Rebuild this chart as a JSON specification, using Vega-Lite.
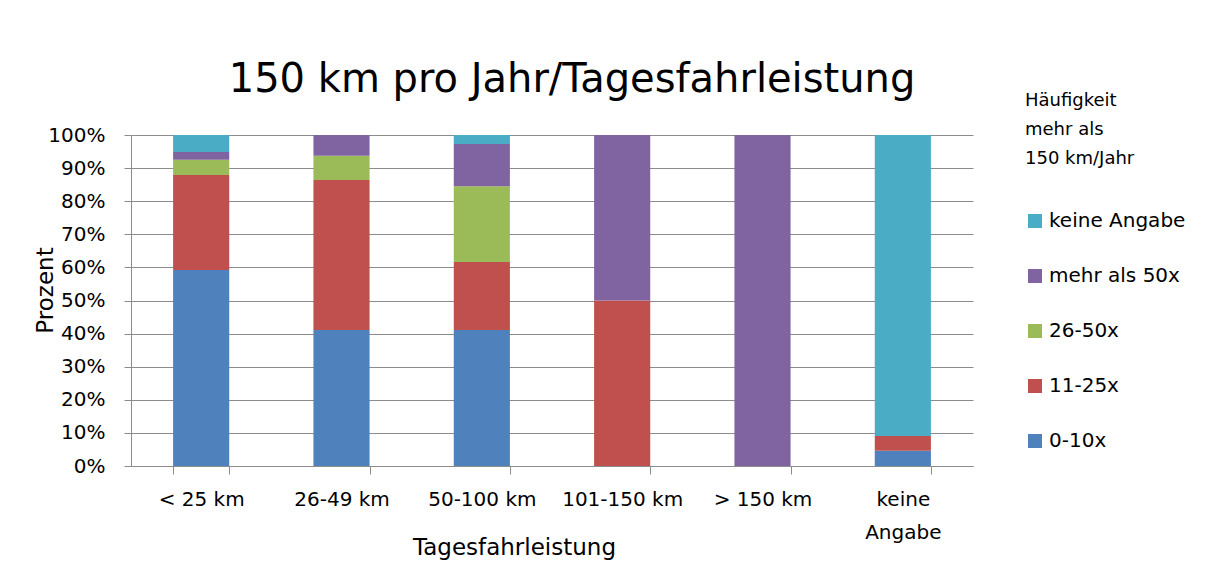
{
  "$schema": "https://vega.github.io/schema/vega-lite/v6.json",
  "width": 842,
  "height": 331,
  "autosize": {"type": "none"},
  "padding": {"left": 131, "top": 135, "right": 244, "bottom": 104},
  "background": "white",
  "title": {
    "text": "150 km pro Jahr/Tagesfahrleistung",
    "font": "DejaVu Sans",
    "fontSize": 40,
    "fontWeight": "normal",
    "color": "#000000",
    "anchor": "middle",
    "frame": "group",
    "baseline": "alphabetic",
    "dx": 20,
    "dy": 80,
    "offset": 40
  },
  "datasets": {
    "stufen": [
      {"haeufigkeit": "0-10x", "rang": 1},
      {"haeufigkeit": "11-25x", "rang": 2},
      {"haeufigkeit": "26-50x", "rang": 3},
      {"haeufigkeit": "mehr als 50x", "rang": 4},
      {"haeufigkeit": "keine Angabe", "rang": 5}
    ]
  },
  "data": {
    "values": [
      {"kategorie": "< 25 km", "haeufigkeit": "0-10x", "prozent": 59.2},
      {"kategorie": "< 25 km", "haeufigkeit": "11-25x", "prozent": 28.7},
      {"kategorie": "< 25 km", "haeufigkeit": "26-50x", "prozent": 4.6},
      {"kategorie": "< 25 km", "haeufigkeit": "mehr als 50x", "prozent": 2.4},
      {"kategorie": "< 25 km", "haeufigkeit": "keine Angabe", "prozent": 5.1},
      {"kategorie": "26-49 km", "haeufigkeit": "0-10x", "prozent": 41.1},
      {"kategorie": "26-49 km", "haeufigkeit": "11-25x", "prozent": 45.3},
      {"kategorie": "26-49 km", "haeufigkeit": "26-50x", "prozent": 7.3},
      {"kategorie": "26-49 km", "haeufigkeit": "mehr als 50x", "prozent": 6.3},
      {"kategorie": "50-100 km", "haeufigkeit": "0-10x", "prozent": 41.1},
      {"kategorie": "50-100 km", "haeufigkeit": "11-25x", "prozent": 20.5},
      {"kategorie": "50-100 km", "haeufigkeit": "26-50x", "prozent": 22.9},
      {"kategorie": "50-100 km", "haeufigkeit": "mehr als 50x", "prozent": 12.8},
      {"kategorie": "50-100 km", "haeufigkeit": "keine Angabe", "prozent": 2.7},
      {"kategorie": "101-150 km", "haeufigkeit": "11-25x", "prozent": 50},
      {"kategorie": "101-150 km", "haeufigkeit": "mehr als 50x", "prozent": 50},
      {"kategorie": "> 150 km", "haeufigkeit": "mehr als 50x", "prozent": 100},
      {"kategorie": "keine Angabe", "haeufigkeit": "0-10x", "prozent": 4.6},
      {"kategorie": "keine Angabe", "haeufigkeit": "11-25x", "prozent": 4.5},
      {"kategorie": "keine Angabe", "haeufigkeit": "keine Angabe", "prozent": 90.9}
    ]
  },
  "transform": [
    {"lookup": "haeufigkeit", "from": {"data": {"name": "stufen"}, "key": "haeufigkeit", "fields": ["rang"]}}
  ],
  "mark": {"type": "bar"},
  "encoding": {
    "x": {
      "field": "kategorie",
      "type": "nominal",
      "sort": ["< 25 km", "26-49 km", "50-100 km", "101-150 km", "> 150 km", "keine Angabe"],
      "scale": {"paddingInner": 0.6, "paddingOuter": 0.3},
      "axis": {
        "title": "Tagesfahrleistung",
        "labelAngle": 0,
        "tickBand": "extent",
        "tickSize": 8,
        "labelPadding": 15,
        "labelLineHeight": 33,
        "labelExpr": "datum.value == 'keine Angabe' ? ['keine', 'Angabe'] : datum.value",
        "titleX": 383,
        "titleY": 81,
        "titleBaseline": "middle",
        "titleAlign": "center"
      }
    },
    "y": {
      "field": "prozent",
      "type": "quantitative",
      "stack": "zero",
      "scale": {"domain": [0, 100], "nice": false},
      "axis": {
        "title": "Prozent",
        "values": [0, 10, 20, 30, 40, 50, 60, 70, 80, 90, 100],
        "labelExpr": "datum.value + '%'",
        "tickSize": 7,
        "labelPadding": 19,
        "grid": true,
        "titleX": -86,
        "titleY": 155,
        "titleAngle": -90,
        "titleAlign": "center",
        "titleBaseline": "middle"
      }
    },
    "order": {"field": "rang", "type": "quantitative", "sort": "ascending"},
    "color": {
      "field": "haeufigkeit",
      "type": "nominal",
      "scale": {
        "domain": ["keine Angabe", "mehr als 50x", "26-50x", "11-25x", "0-10x"],
        "range": ["#4BACC6", "#8064A2", "#9BBB59", "#C0504D", "#4F81BD"]
      },
      "legend": {
        "title": ["Häufigkeit", "mehr als", "150 km/Jahr"],
        "orient": "none",
        "legendX": 894,
        "legendY": -43,
        "padding": 0,
        "symbolType": "square",
        "symbolSize": 196,
        "symbolStrokeWidth": 0,
        "labelOffset": 4,
        "rowPadding": 35,
        "titlePadding": 43,
        "titleLineHeight": 29
      }
    }
  },
  "config": {
    "font": "DejaVu Sans",
    "view": {"stroke": null},
    "axis": {
      "labelFont": "DejaVu Sans",
      "labelFontSize": 20,
      "labelColor": "#000000",
      "titleFont": "DejaVu Sans",
      "titleFontSize": 23,
      "titleFontWeight": "normal",
      "titleColor": "#000000",
      "domainColor": "#8c8c8c",
      "tickColor": "#8c8c8c",
      "gridColor": "#8c8c8c",
      "gridOpacity": 1,
      "domainWidth": 1,
      "tickWidth": 1,
      "gridWidth": 1
    },
    "axisX": {"grid": false},
    "legend": {
      "labelFont": "DejaVu Sans",
      "labelFontSize": 20,
      "labelColor": "#000000",
      "titleFont": "DejaVu Sans",
      "titleFontSize": 18,
      "titleFontWeight": "normal",
      "titleColor": "#000000",
      "titleBaseline": "top"
    }
  }
}
